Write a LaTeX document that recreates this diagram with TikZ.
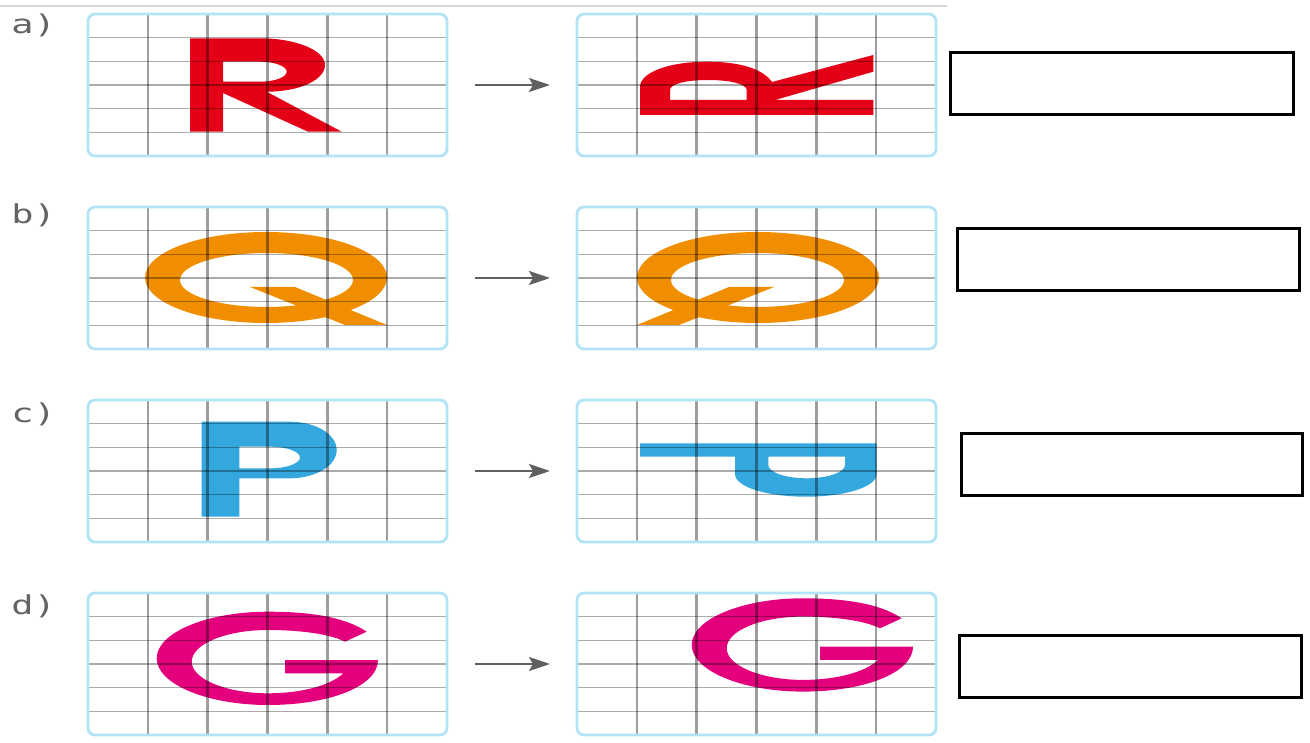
\documentclass[tikz,border=0pt]{standalone}
\usepackage{fontspec}
\newfontfamily\labfont{DejaVu Sans Mono}
\usetikzlibrary{arrows.meta}
\definecolor{rred}{RGB}{228,0,22}
\definecolor{qorange}{RGB}{240,142,0}
\definecolor{pblue}{RGB}{52,168,222}
\definecolor{gmag}{RGB}{228,0,125}
\definecolor{gborder}{RGB}{178,228,246}
\definecolor{labgray}{RGB}{100,100,100}
\definecolor{arrgray}{RGB}{95,95,95}
\definecolor{toplinec}{RGB}{215,215,215}
\tikzset{
  vline/.style={black, opacity=0.38, line width=2.6pt},
  hline/.style={black, opacity=0.33, line width=1.5pt},
  gbox/.style={draw=gborder, line width=2.8pt, rounded corners=7pt, inner sep=0pt, outer sep=0pt,
               minimum width=359pt, minimum height=142pt, anchor=north west},
  ansbox/.style={draw=black, line width=3pt, inner sep=0pt, outer sep=0pt,
                 minimum width=343pt, minimum height=62pt},
  arr/.style={draw=arrgray, line width=2.2pt, -{Stealth[length=21pt,width=14pt,inset=4pt]},
              shorten <=28pt, shorten >=27pt},
  lab/.style={text=labgray, font=\labfont\fontsize{26}{26}\selectfont, anchor=base west,
              inner sep=0pt, xscale=1.42},
}
\newcommand{\gridlines}[2]{%
  \foreach \k in {1,...,5} {
    \draw[vline] ({#1+59.83*\k},#2) -- ({#1+59.83*\k},#2+142);
    \draw[hline] (#1,{#2+23.67*\k}) -- (#1+359,{#2+23.67*\k});
  }}
\newcommand{\letterQ}{%
  \fill[qorange, even odd rule] (266,277.5) ellipse [x radius=121pt, y radius=45.5pt]
        (266.5,280) ellipse [x radius=86.5pt, y radius=27pt];
  \fill[qorange] (250,287) -- (295,287) -- (387,325) -- (345,325) -- cycle;}
\newcommand{\letterG}{%
  \fill[gmag] (366.7,631.7) .. controls (345,617) and (310,611.7) .. (268,611.7)
     .. controls (207,611.7) and (156.7,632.6) .. (156.7,658.3)
     .. controls (156.7,684) and (207,705) .. (268,705)
     .. controls (330,705) and (378,686) .. (378,660)
     -- (285,660) -- (285,673.3) -- (343.3,673.3)
     .. controls (330,686) and (300,693.3) .. (268,693.3)
     .. controls (226,693.3) and (191.7,679) .. (191.7,661.7)
     .. controls (191.7,644) and (226,630) .. (268,630)
     .. controls (300,630) and (330,634) .. (345,641.7) -- cycle;}
\begin{document}
\begin{tikzpicture}[x=1pt,y=-1pt]
\useasboundingbox (0,0) rectangle (1310,743);
\fill[white] (0,0) rectangle (1310,743);
\draw[toplinec, line width=2pt] (0,6) -- (947,6);

% a) R
\fill[rred, even odd rule] (190,38.3) -- (260,38.3) .. controls (295.9,38.3) and (325,50.3) .. (325,65)
   .. controls (325,79.7) and (300,91.7) .. (266.7,91.7) -- (341.7,131.7) -- (308,131.7)
   -- (223,93) -- (223,131.7) -- (190,131.7) -- cycle
   (223,61.7) -- (260,61.7) .. controls (274.7,61.7) and (286.7,66.2) .. (286.7,71.7)
   .. controls (286.7,77.2) and (274.7,81.7) .. (260,81.7) -- (223,81.7) -- cycle;
\fill[rred, even odd rule] (640,115) -- (873.3,115) -- (873.3,100) -- (775,100) -- (873.3,71.7)
   -- (873.3,55) -- (772,82) .. controls (762,68) and (738,61.7) .. (707,61.7)
   .. controls (670,61.7) and (640,72) .. (640,87) -- cycle
   (670,100) -- (670,90) .. controls (670,84) and (686,80) .. (708,80)
   .. controls (730,80) and (746.7,84) .. (746.7,90) -- (746.7,100) -- cycle;

% b) Q
\letterQ
\begin{scope}[xshift=1024pt, xscale=-1]
  \letterQ
\end{scope}

% c) P
\fill[pblue, even odd rule] (201.7,516.7) -- (201.7,421.7) -- (290,421.7)
   .. controls (315.8,421.7) and (336.7,434.4) .. (336.7,450)
   .. controls (336.7,465.6) and (315.8,478.3) .. (290,478.3) -- (239.3,478.3) -- (239.3,516.7) -- cycle
   (239.3,446.7) -- (270,446.7) .. controls (286.6,446.7) and (300,451.5) .. (300,457.5)
   .. controls (300,463.5) and (286.6,468.3) .. (270,468.3) -- (239.3,468.3) -- cycle;
\fill[pblue, even odd rule] (640,443.3) -- (876.7,443.3) -- (876.7,474)
   .. controls (876.7,487) and (845,496.7) .. (806,496.7)
   .. controls (767,496.7) and (735,487) .. (735,474) -- (735,456.7) -- (640,456.7) -- cycle
   (768.3,456.7) -- (845,456.7) -- (845,465) .. controls (845,472.3) and (827.8,478.3) .. (806.7,478.3)
   .. controls (785.5,478.3) and (768.3,472.3) .. (768.3,465) -- cycle;

% d) G
\letterG
\begin{scope}[xshift=535pt, yshift=13.4pt]
  \letterG
\end{scope}

% grids
\gridlines{88}{14}  \gridlines{577}{14}
\gridlines{88}{207} \gridlines{577}{207}
\gridlines{88}{400} \gridlines{577}{400}
\gridlines{88}{593} \gridlines{577}{593}

\node[gbox] (a1) at (88,14) {};
\node[gbox] (a2) at (577,14) {};
\node[gbox] (b1) at (88,207) {};
\node[gbox] (b2) at (577,207) {};
\node[gbox] (c1) at (88,400) {};
\node[gbox] (c2) at (577,400) {};
\node[gbox] (d1) at (88,593) {};
\node[gbox] (d2) at (577,593) {};

\draw[arr] (a1.east) -- (a2.west);
\draw[arr] (b1.east) -- (b2.west);
\draw[arr] (c1.east) -- (c2.west);
\draw[arr] (d1.east) -- (d2.west);

\node[ansbox] (ans1) at (1122,83.5) {};
\node[ansbox, minimum width=342pt] (ans2) at (1128.5,260) {};
\node[ansbox, minimum width=341pt] (ans3) at (1132,464.5) {};
\node[ansbox, minimum width=342pt] (ans4) at (1130.5,666.5) {};

\node[lab] (la) at (11,34) {a)};
\node[lab] (lb) at (11,224) {b)};
\node[lab] (lc) at (11,423) {c)};
\node[lab] (ld) at (11,614) {d)};
\end{tikzpicture}
\end{document}
